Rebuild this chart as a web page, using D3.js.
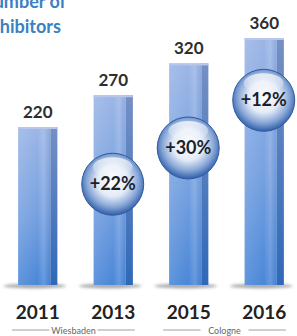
<!DOCTYPE html>
<html lang="en">
  <head>
    <meta charset="UTF-8" />
    <title>Number of Exhibitors</title>
    <script src="https://d3js.org/d3.v7.min.js"></script>
    <style>
      body {
        margin: 0;
        background: #ffffff;
      }
      svg {
        display: block;
      }
      text {
        font-family: Lato, "DejaVu Sans", sans-serif;
      }
    </style>
  </head>
  <body>
    <svg id="chart"></svg>
  </body>
  <script>
    // data
    const years = ["2011", "2013", "2015", "2016"];
    const exhibitors = [220, 270, 320, 360];
    const growth = [null, "+22%", "+30%", "+12%"];
    const badgeLevel = [null, 130, 187, 262]; // where each badge sits, on the value scale
    const venues = [
      { name: "Wiesbaden", from: "2011", to: "2013" },
      { name: "Cologne", from: "2015", to: "2016" },
    ];
    const titleLines = ["Number of", "Exhibitors"];

    const width = 297;
    const height = 336;
    const floorY = 285;

    const svg = d3.select("#chart").attr("width", width).attr("height", height);
    const defs = svg.append("defs");

    const x = d3
      .scaleBand()
      .domain(years)
      .range([0, 302])
      .paddingInner(0.48)
      .paddingOuter(0.24);

    const y = d3.scaleLinear().domain([220, 360]).range([127, 38]);

    // gradients
    const front = defs
      .append("linearGradient")
      .attr("id", "front")
      .attr("x1", 0)
      .attr("y1", 0)
      .attr("x2", 0)
      .attr("y2", 1);
    front.append("stop").attr("offset", "0%").attr("stop-color", "#9cb6e6");
    front.append("stop").attr("offset", "55%").attr("stop-color", "#77a1e0");
    front.append("stop").attr("offset", "100%").attr("stop-color", "#4a87d8");

    const sheen = defs
      .append("linearGradient")
      .attr("id", "sheen")
      .attr("x1", 0)
      .attr("y1", 0)
      .attr("x2", 1)
      .attr("y2", 0);
    sheen.append("stop").attr("offset", "0%").attr("stop-color", "#ffffff").attr("stop-opacity", 0.12);
    sheen.append("stop").attr("offset", "60%").attr("stop-color", "#ffffff").attr("stop-opacity", 0);
    sheen.append("stop").attr("offset", "80%").attr("stop-color", "#ffffff").attr("stop-opacity", 0.15);
    sheen.append("stop").attr("offset", "100%").attr("stop-color", "#1d4f9a").attr("stop-opacity", 0.1);

    const side = defs
      .append("linearGradient")
      .attr("id", "side")
      .attr("x1", 0)
      .attr("y1", 0)
      .attr("x2", 0)
      .attr("y2", 1);
    side.append("stop").attr("offset", "0%").attr("stop-color", "#7590c4");
    side.append("stop").attr("offset", "100%").attr("stop-color", "#2f68b8");

    const ball = defs
      .append("radialGradient")
      .attr("id", "ball")
      .attr("cx", "50%")
      .attr("cy", "45%")
      .attr("r", "55%");
    ball.append("stop").attr("offset", "0%").attr("stop-color", "#ffffff");
    ball.append("stop").attr("offset", "45%").attr("stop-color", "#e4ebf6");
    ball.append("stop").attr("offset", "75%").attr("stop-color", "#8aa8d8");
    ball.append("stop").attr("offset", "100%").attr("stop-color", "#2f5ea8");

    const gloss = defs
      .append("linearGradient")
      .attr("id", "gloss")
      .attr("x1", 0)
      .attr("y1", 0)
      .attr("x2", 0)
      .attr("y2", 1);
    gloss.append("stop").attr("offset", "0%").attr("stop-color", "#ffffff").attr("stop-opacity", 0.75);
    gloss.append("stop").attr("offset", "100%").attr("stop-color", "#ffffff").attr("stop-opacity", 0);

    defs
      .append("filter")
      .attr("id", "blur")
      .attr("x", "-50%")
      .attr("y", "-200%")
      .attr("width", "200%")
      .attr("height", "500%")
      .append("feGaussianBlur")
      .attr("stdDeviation", 1.6);

    const rows = years.map((yr, i) => ({
      year: yr,
      value: exhibitors[i],
      growth: growth[i],
      badge: badgeLevel[i],
    }));

    // title, cut off at the top left like the source
    svg
      .append("text")
      .attr("x", -20)
      .attr("y", 8)
      .attr("fill", "#3a80c4")
      .attr("font-size", 18)
      .attr("font-weight", "bold")
      .selectAll("tspan")
      .data(titleLines)
      .enter()
      .append("tspan")
      .attr("x", -20)
      .attr("dy", (d, i) => (i === 0 ? 0 : 25))
      .text((d) => d);

    const bars = svg
      .append("g")
      .selectAll("g")
      .data(rows)
      .enter()
      .append("g");

    // floor shadow
    bars
      .append("ellipse")
      .attr("cx", (d) => x(d.year) + x.bandwidth() / 2 - 3)
      .attr("cy", floorY + 1)
      .attr("rx", x.bandwidth() / 2 + 12)
      .attr("ry", 2.2)
      .attr("fill", "#5a5a5a")
      .attr("opacity", 0.55)
      .attr("filter", "url(#blur)");

    const frontW = () => x.bandwidth() * 0.82;

    bars
      .append("rect")
      .attr("x", (d) => x(d.year))
      .attr("y", (d) => y(d.value))
      .attr("width", frontW())
      .attr("height", (d) => floorY - y(d.value))
      .attr("fill", "url(#front)");

    bars
      .append("rect")
      .attr("x", (d) => x(d.year))
      .attr("y", (d) => y(d.value))
      .attr("width", frontW())
      .attr("height", (d) => floorY - y(d.value))
      .attr("fill", "url(#sheen)");

    bars
      .append("rect")
      .attr("x", (d) => x(d.year) + frontW())
      .attr("y", (d) => y(d.value))
      .attr("width", x.bandwidth() - frontW())
      .attr("height", (d) => floorY - y(d.value))
      .attr("fill", "url(#side)");

    bars
      .append("rect")
      .attr("x", (d) => x(d.year))
      .attr("y", (d) => y(d.value))
      .attr("width", x.bandwidth())
      .attr("height", 2)
      .attr("fill", "#b8c6ea");

    // value labels
    bars
      .append("text")
      .attr("x", (d) => x(d.year) + x.bandwidth() / 2)
      .attr("y", (d) => y(d.value) - 9)
      .attr("text-anchor", "middle")
      .attr("font-size", 17)
      .attr("font-weight", "bold")
      .attr("fill", "#2e2e2e")
      .text((d) => d.value);

    // growth badges
    const badges = bars
      .filter((d) => d.growth)
      .append("g")
      .attr(
        "transform",
        (d) => `translate(${x(d.year) + frontW() / 2 + 3},${y(d.badge)})`
      );

    badges
      .append("circle")
      .attr("r", 31)
      .attr("fill", "url(#ball)")
      .attr("stroke", "#2d5aa0")
      .attr("stroke-width", 1);

    badges
      .append("ellipse")
      .attr("cy", -17)
      .attr("rx", 20)
      .attr("ry", 10)
      .attr("fill", "url(#gloss)");

    badges
      .append("text")
      .attr("y", 6)
      .attr("text-anchor", "middle")
      .attr("font-size", 18)
      .attr("font-weight", "bold")
      .attr("fill", "#1b1f2e")
      .text((d) => d.growth);

    // year axis
    const axis = svg
      .append("g")
      .attr("transform", `translate(0,${floorY})`)
      .call(d3.axisBottom(x).tickSize(0).tickPadding(21));
    axis.select(".domain").remove();
    axis
      .selectAll("text")
      .attr("font-family", "Lato, 'DejaVu Sans', sans-serif")
      .attr("font-size", 19)
      .attr("font-weight", "bold")
      .attr("fill", "#222222");

    // venue brackets
    const venueG = svg
      .append("g")
      .selectAll("g")
      .data(venues)
      .enter()
      .append("g");

    const vx0 = (d) => x(d.from) - 6;
    const vx1 = (d) => x(d.to) + x.bandwidth() + 2;
    const vmid = (d) => (vx0(d) + vx1(d)) / 2;

    venueG
      .append("line")
      .attr("x1", vx0)
      .attr("x2", vx1)
      .attr("y1", 330)
      .attr("y2", 330)
      .attr("stroke", "#888888")
      .attr("stroke-width", 0.8);

    venueG
      .append("rect")
      .attr("x", (d) => vmid(d) - 24)
      .attr("y", 325)
      .attr("width", 48)
      .attr("height", 11)
      .attr("fill", "#ffffff");

    venueG
      .append("text")
      .attr("x", vmid)
      .attr("y", 334)
      .attr("text-anchor", "middle")
      .attr("font-size", 9)
      .attr("fill", "#666666")
      .text((d) => d.name);
  </script>
</html>
